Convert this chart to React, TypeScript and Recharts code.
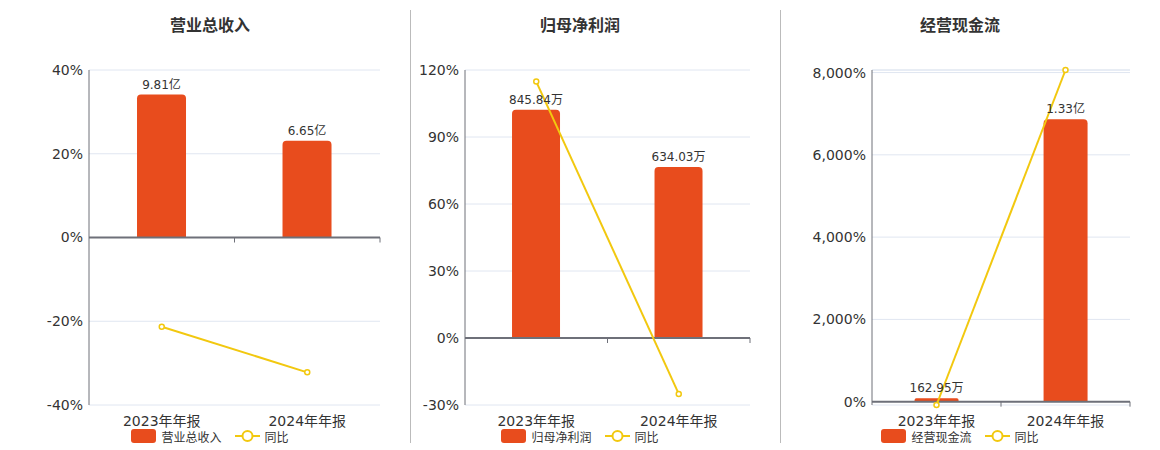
import React from 'react';
import {ComposedChart, Bar, Line, XAxis, YAxis, CartesianGrid, ReferenceLine, LabelList, Legend} from 'recharts';

// 报告期
const periods = ['2023年年报', '2024年年报'];

// 金额（单位：万元）
const revenue = [98100, 66500];
const netProfit = [845.84, 634.03];
const cashFlow = [162.95, 13300];

// 同比（%）
const revenueYoy = [-21.3, -32.2];
const netProfitYoy = [114.8, -25.04];
const cashFlowYoy = [-80.6, 8062];

const revenueTicks = [-40, -20, 0, 20, 40];
const netProfitTicks = [-30, 0, 30, 60, 90, 120];
const cashFlowTicks = [0, 2000, 4000, 6000, 8000];

const BAR_COLOR = '#E84C1D';
const LINE_COLOR = '#F2C80F';
const AXIS_COLOR = '#6E7079';
const GRID_COLOR = '#E0E6F1';
const TEXT_COLOR = '#333';
const FONT = '"DejaVu Sans", "Noto Sans CJK SC", sans-serif';

const fmtAmount = (v: any) => {
  const n = Number(v);
  return n >= 10000 ? `${(n / 10000).toFixed(2)}亿` : `${n.toFixed(2)}万`;
};
const fmtPct = (v: number) => `${v.toLocaleString('en-US')}%`;

interface IPanelProps {
  title: string;
  left: number;
  width: number;
  axisWidth: number;
  center: number;
  amounts: number[];
  yoy: number[];
  ticks: number[];
  pctDomain: [number, number];
  barDomain: [number, number];
  topLine?: number;
}

const ZeroAxis = (p: any) => {
  const {x1, y1, x2, y2} = p;
  const mid = (x1 + x2) / 2;
  return (
    <g>
      <line x1={x1} y1={y1} x2={x2} y2={y2} stroke={AXIS_COLOR} strokeWidth={2} />
      <line x1={mid} y1={y1} x2={mid} y2={y1 + 5} stroke={AXIS_COLOR} strokeWidth={1} />
      <line x1={x2} y1={y1} x2={x2} y2={y1 + 5} stroke={AXIS_COLOR} strokeWidth={1} />
    </g>
  );
};

const LegendContent = ({name}: {name: string}) => (
  <div style={{display: 'flex', justifyContent: 'center', alignItems: 'center', height: 16, fontSize: 12, color: TEXT_COLOR, fontFamily: FONT}}>
    <span style={{display: 'inline-block', width: 25, height: 14, borderRadius: 3, background: BAR_COLOR, marginRight: 5}} />
    <span style={{marginRight: 13}}>{name}</span>
    <svg width={25} height={14} style={{marginRight: 5}}>
      <line x1={0} y1={7} x2={25} y2={7} stroke={LINE_COLOR} strokeWidth={2} />
      <circle cx={12.5} cy={7} r={5} fill="#fff" stroke={LINE_COLOR} strokeWidth={2} />
    </svg>
    <span>同比</span>
  </div>
);

const Panel = ({title, left, width, axisWidth, center, amounts, yoy, ticks, pctDomain, barDomain, topLine}: IPanelProps) => {
  const data = periods.map((p, i) => ({period: p, amount: amounts[i], yoy: yoy[i]}));
  return (
    <div style={{position: 'absolute', left, top: 0, width, height: 450}}>
      <div style={{position: 'absolute', left: center - 100, width: 200, top: 12, textAlign: 'center', fontFamily: FONT, fontWeight: 'bold', fontSize: 16, color: TEXT_COLOR}}>
        {title}
      </div>
      <ComposedChart width={width} height={450} data={data} margin={{top: 70, right: 30, left: 0, bottom: 6}} barCategoryGap="33%">
        <CartesianGrid vertical={false} stroke={GRID_COLOR} yAxisId="pct" />
        <XAxis dataKey="period" axisLine={false} tickLine={false} tickSize={0} tickMargin={11} height={23}
          tick={{fontSize: 14, fill: TEXT_COLOR, fontFamily: FONT}} interval={0} />
        <YAxis yAxisId="pct" domain={pctDomain} ticks={ticks} width={axisWidth}
          axisLine={{stroke: AXIS_COLOR}} tickLine={false} tickSize={0} tickMargin={6} tickFormatter={fmtPct}
          tick={{fontSize: 14, fill: TEXT_COLOR, fontFamily: FONT}} />
        <YAxis yAxisId="bar" orientation="right" domain={barDomain} hide />
        {topLine !== undefined && <ReferenceLine yAxisId="pct" y={topLine} stroke={GRID_COLOR} />}
        <Bar yAxisId="bar" dataKey="amount" name={title} fill={BAR_COLOR} radius={[4, 4, 0, 0]} isAnimationActive={false}>
          <LabelList dataKey="amount" position="top" offset={6} formatter={fmtAmount}
            style={{fontSize: 12, fill: TEXT_COLOR, fontFamily: FONT}} />
        </Bar>
        <ReferenceLine yAxisId="pct" y={0} shape={ZeroAxis} />
        <Line yAxisId="pct" dataKey="yoy" name="同比" stroke={LINE_COLOR} strokeWidth={2}
          dot={{r: 2.5, fill: '#fff', stroke: LINE_COLOR, strokeWidth: 1.5}} isAnimationActive={false} />
        <Legend verticalAlign="bottom" content={() => <LegendContent name={title} />}
          wrapperStyle={{left: center - 150, width: 300}} />
      </ComposedChart>
    </div>
  );
}

export default function App() {
  return (
    <div style={{position: 'absolute', left: 0, top: 0, width: 1160, height: 450, background: '#fff'}}>
      <Panel title="营业总收入" left={0} width={410} axisWidth={89} center={210}
        amounts={revenue} yoy={revenueYoy} ticks={revenueTicks}
        pctDomain={[-40, 40]} barDomain={[-115000, 115000]} />
      <Panel title="归母净利润" left={410} width={370} axisWidth={55} center={170}
        amounts={netProfit} yoy={netProfitYoy} ticks={netProfitTicks}
        pctDomain={[-30, 120]} barDomain={[-248.3, 993.3]} />
      <Panel title="经营现金流" left={780} width={380} axisWidth={92} center={180}
        amounts={cashFlow} yoy={cashFlowYoy} ticks={cashFlowTicks}
        pctDomain={[-80.6, 8062]} barDomain={[-155.8, 15613]} topLine={8062} />
      <div style={{position: 'absolute', left: 410, top: 10, width: 1, height: 433, background: '#bbb'}} />
      <div style={{position: 'absolute', left: 780, top: 10, width: 1, height: 433, background: '#bbb'}} />
    </div>
  );
}
